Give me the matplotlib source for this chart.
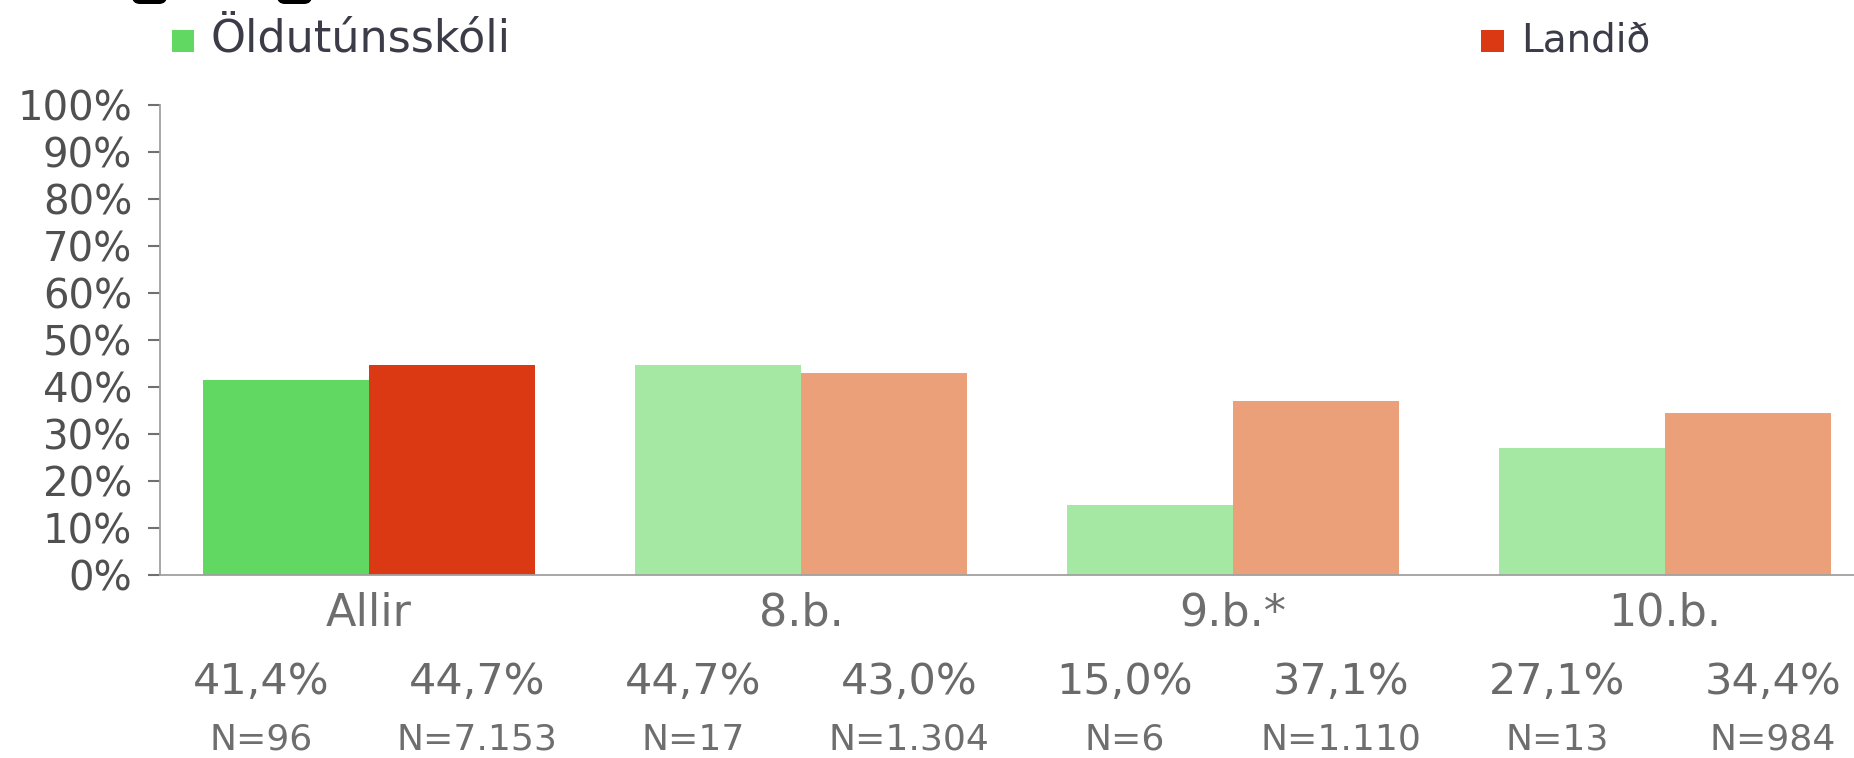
import matplotlib
matplotlib.use("Agg")
import matplotlib.pyplot as plt
from matplotlib.patches import FancyBboxPatch, Rectangle
from matplotlib.transforms import blended_transform_factory

plt.rcParams['font.family'] = ['DejaVu Sans']

categories = ["Allir", "8.b.", "9.b.*", "10.b."]
school_vals = [41.4, 44.7, 15.0, 27.1]
national_vals = [44.7, 43.0, 37.1, 34.4]
school_n = ["N=96", "N=17", "N=6", "N=13"]
national_n = ["N=7.153", "N=1.304", "N=1.110", "N=984"]
school_name = "Öldutúnsskóli"
national_name = "Landið"
yticks = list(range(0, 101, 10))

school_colors = ["#60d862", "#a4e8a4", "#a4e8a4", "#a4e8a4"]
national_colors = ["#db3914", "#eca07a", "#eca07a", "#eca07a"]

W, H = 1854, 758
fig = plt.figure(figsize=(W / 100, H / 100), dpi=100)

# overlay in pixel coordinates for decorations
ov = fig.add_axes([0, 0, 1, 1], zorder=5)
ov.set_xlim(0, W)
ov.set_ylim(H, 0)
ov.axis("off")
ov.patch.set_alpha(0)

ax = fig.add_axes([160 / W, 1 - 575 / H, (W - 160) / W, (575 - 105) / H])

bw = 0.385
x = list(range(len(categories)))
ax.bar([i - bw / 2 for i in x], school_vals, width=bw, color=school_colors, linewidth=0)
ax.bar([i + bw / 2 for i in x], national_vals, width=bw, color=national_colors, linewidth=0)

ax.set_xlim(-0.484, 3.4375)
ax.set_ylim(0, 100)
ax.set_yticks(yticks)
ax.set_yticklabels([f"{t}%" for t in yticks], fontsize=29, color="#505050")
ax.set_xticks([])
for s in ["top", "right"]:
    ax.spines[s].set_visible(False)
for s in ["left", "bottom"]:
    ax.spines[s].set_color("#a0a0a0")
    ax.spines[s].set_linewidth(1.3)
ax.tick_params(axis="y", length=9, width=1.5, color="#707070", pad=11)

trans = blended_transform_factory(ax.transData, fig.transFigure)
for i, c in enumerate(categories):
    fig.text(i, 1 - 613 / H, c, transform=trans, ha="center", va="center",
             fontsize=32, color="#6e6e6e")
    fig.text(i - 0.25, 1 - 682 / H, f"{school_vals[i]:.1f}%".replace(".", ","),
             transform=trans, ha="center", va="center", fontsize=31, color="#6a6a6a")
    fig.text(i + 0.25, 1 - 682 / H, f"{national_vals[i]:.1f}%".replace(".", ","),
             transform=trans, ha="center", va="center", fontsize=31, color="#6a6a6a")
    fig.text(i - 0.25, 1 - 740 / H, school_n[i], transform=trans,
             ha="center", va="center", fontsize=26, color="#6e6e6e")
    fig.text(i + 0.25, 1 - 740 / H, national_n[i], transform=trans,
             ha="center", va="center", fontsize=26, color="#6e6e6e")

# legend
ov.add_patch(Rectangle((172, 30), 22, 22, color=school_colors[0], linewidth=0))
ov.text(211, 52, school_name, ha="left", va="baseline", fontsize=32, color="#3c3c48")
ov.add_patch(Rectangle((1481, 30), 23, 22, color=national_colors[0], linewidth=0))
ov.text(1521, 52, national_name, ha="left", va="baseline", fontsize=28, color="#3c3c48")

# cropped dark shapes at the top edge
for x0 in (132, 277):
    ov.add_patch(FancyBboxPatch((x0, -14), 35, 18,
                                boxstyle="round,pad=0,rounding_size=8",
                                facecolor="black", edgecolor="black", linewidth=0))

fig.savefig("out.png", dpi=100, facecolor="white")
